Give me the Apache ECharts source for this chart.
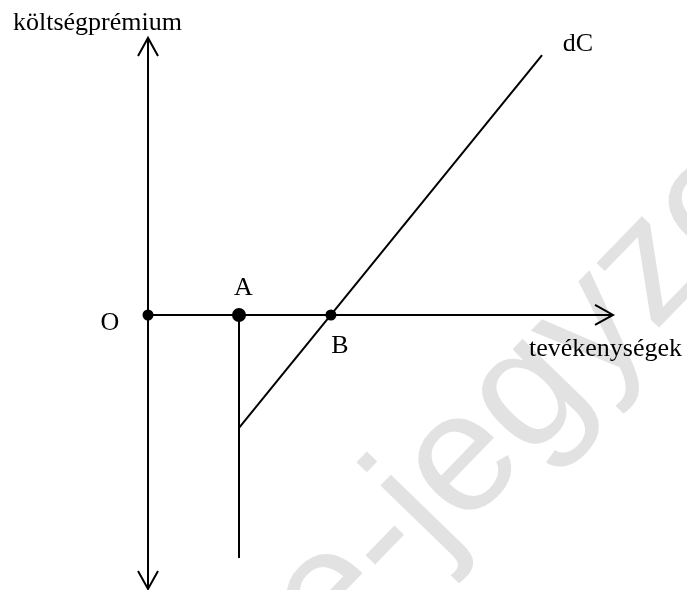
<!DOCTYPE html>
<html>
<head>
<meta charset="utf-8">
<script src="https://cdn.jsdelivr.net/npm/echarts@6/dist/echarts.min.js"></script>
<style>
  html, body { margin: 0; padding: 0; background: #fff; }
  #chart { width: 687px; height: 590px; }
</style>
</head>
<body>
<div id="chart"></div>
<script>
// diagram data (unit = one step on both axes, origin O)
const pointNames = ['O', 'A', 'B']
const pointX = [0, 2, 4.02]
const axisX = [0, 10.22]          // horizontal axis: from O to arrow tip
const axisY = [-6.02, 6.09]       // vertical axis: bottom tip, top tip
const dropLineX = [2, 2]          // vertical line from A down
const dropLineY = [0, -5.34]
const dcX = [2, 8.66]             // dC line
const dcY = [-2.48, 5.71]
const axisNames = ['tevékenységek', 'költségprémium']
const lineName = 'dC'

const serif = '"Liberation Serif", "Times New Roman", serif'
const chart = echarts.init(document.getElementById('chart'))

function renderArrow(params, api) {
  const p1 = api.coord([api.value(0), api.value(1)])
  const p2 = api.coord([api.value(2), api.value(3)])
  const both = api.value(4) === 1
  const dx = p2[0] - p1[0], dy = p2[1] - p1[1]
  const len = Math.sqrt(dx * dx + dy * dy)
  const ux = dx / len, uy = dy / len
  const L = 18, W = 10
  const style = { stroke: '#000', lineWidth: 2, fill: null }
  const head = (p, sx, sy) => ({
    type: 'polyline',
    shape: { points: [
      [p[0] - sx * L - sy * W, p[1] - sy * L + sx * W],
      [p[0], p[1]],
      [p[0] - sx * L + sy * W, p[1] - sy * L - sx * W]
    ] },
    style
  })
  const children = [
    { type: 'line', shape: { x1: p1[0], y1: p1[1], x2: p2[0], y2: p2[1] }, style },
    head(p2, ux, uy)
  ]
  if (both) children.push(head(p1, -ux, -uy))
  return { type: 'group', children }
}

const labelOffsets = [[-38, 8.5], [4.5, -26.5], [9, 31.5]]
const dotSizes = [11, 14, 11]
const textStyle = { color: '#000', fontFamily: serif, fontSize: 26, align: 'center', verticalAlign: 'middle' }

chart.setOption({
  animation: false,
  backgroundColor: '#fff',
  grid: { left: 0, right: 0, top: 0, bottom: 0 },
  xAxis: { type: 'value', min: -3.253, max: 11.846, show: false },
  yAxis: { type: 'value', min: -6.044, max: 6.923, show: false },
  graphic: [
    {
      type: 'text', z: -10, x: 298, y: 632, rotation: 0.8, silent: true,
      style: {
        text: 'e-jegyzet', font: '170px "Liberation Sans", Arial, sans-serif',
        fill: '#e2e2e2', align: 'left', verticalAlign: 'middle'
      }
    },
    {
      type: 'text', x: 13, y: 23,
      style: { text: axisNames[1], font: '26px ' + serif, fill: '#000', align: 'left', verticalAlign: 'middle' }
    },
    {
      type: 'text', x: 529, y: 349,
      style: { text: axisNames[0], font: '26px ' + serif, fill: '#000', align: 'left', verticalAlign: 'middle' }
    }
  ],
  series: [
    {
      type: 'custom',
      renderItem: renderArrow,
      silent: true,
      data: [
        [0, axisY[0], 0, axisY[1], 1],
        [axisX[0], 0, axisX[1], 0, 0]
      ],
      z: 2
    },
    {
      type: 'line',
      symbol: 'none',
      silent: true,
      lineStyle: { color: '#000', width: 2 },
      data: dropLineX.map((x, i) => [x, dropLineY[i]]),
      z: 2
    },
    {
      type: 'line',
      symbol: 'none',
      silent: true,
      lineStyle: { color: '#000', width: 2 },
      data: dcX.map((x, i) => [x, dcY[i]]),
      z: 2
    },
    {
      type: 'scatter',
      symbolSize: 0,
      silent: true,
      itemStyle: { opacity: 1 },
      data: [{
        value: [dcX[1], dcY[1]],
        label: { show: true, formatter: lineName, position: 'inside', offset: [36, -10.6] }
      }],
      label: textStyle,
      z: 3
    },
    {
      type: 'scatter',
      silent: true,
      itemStyle: { color: '#000', opacity: 1 },
      data: pointNames.map((n, i) => ({
        name: n,
        value: [pointX[i], 0],
        symbolSize: dotSizes[i],
        label: { offset: labelOffsets[i] }
      })),
      label: Object.assign({ show: true, position: 'inside', formatter: '{b}' }, textStyle),
      z: 4
    }
  ]
})
</script>
</body>
</html>
